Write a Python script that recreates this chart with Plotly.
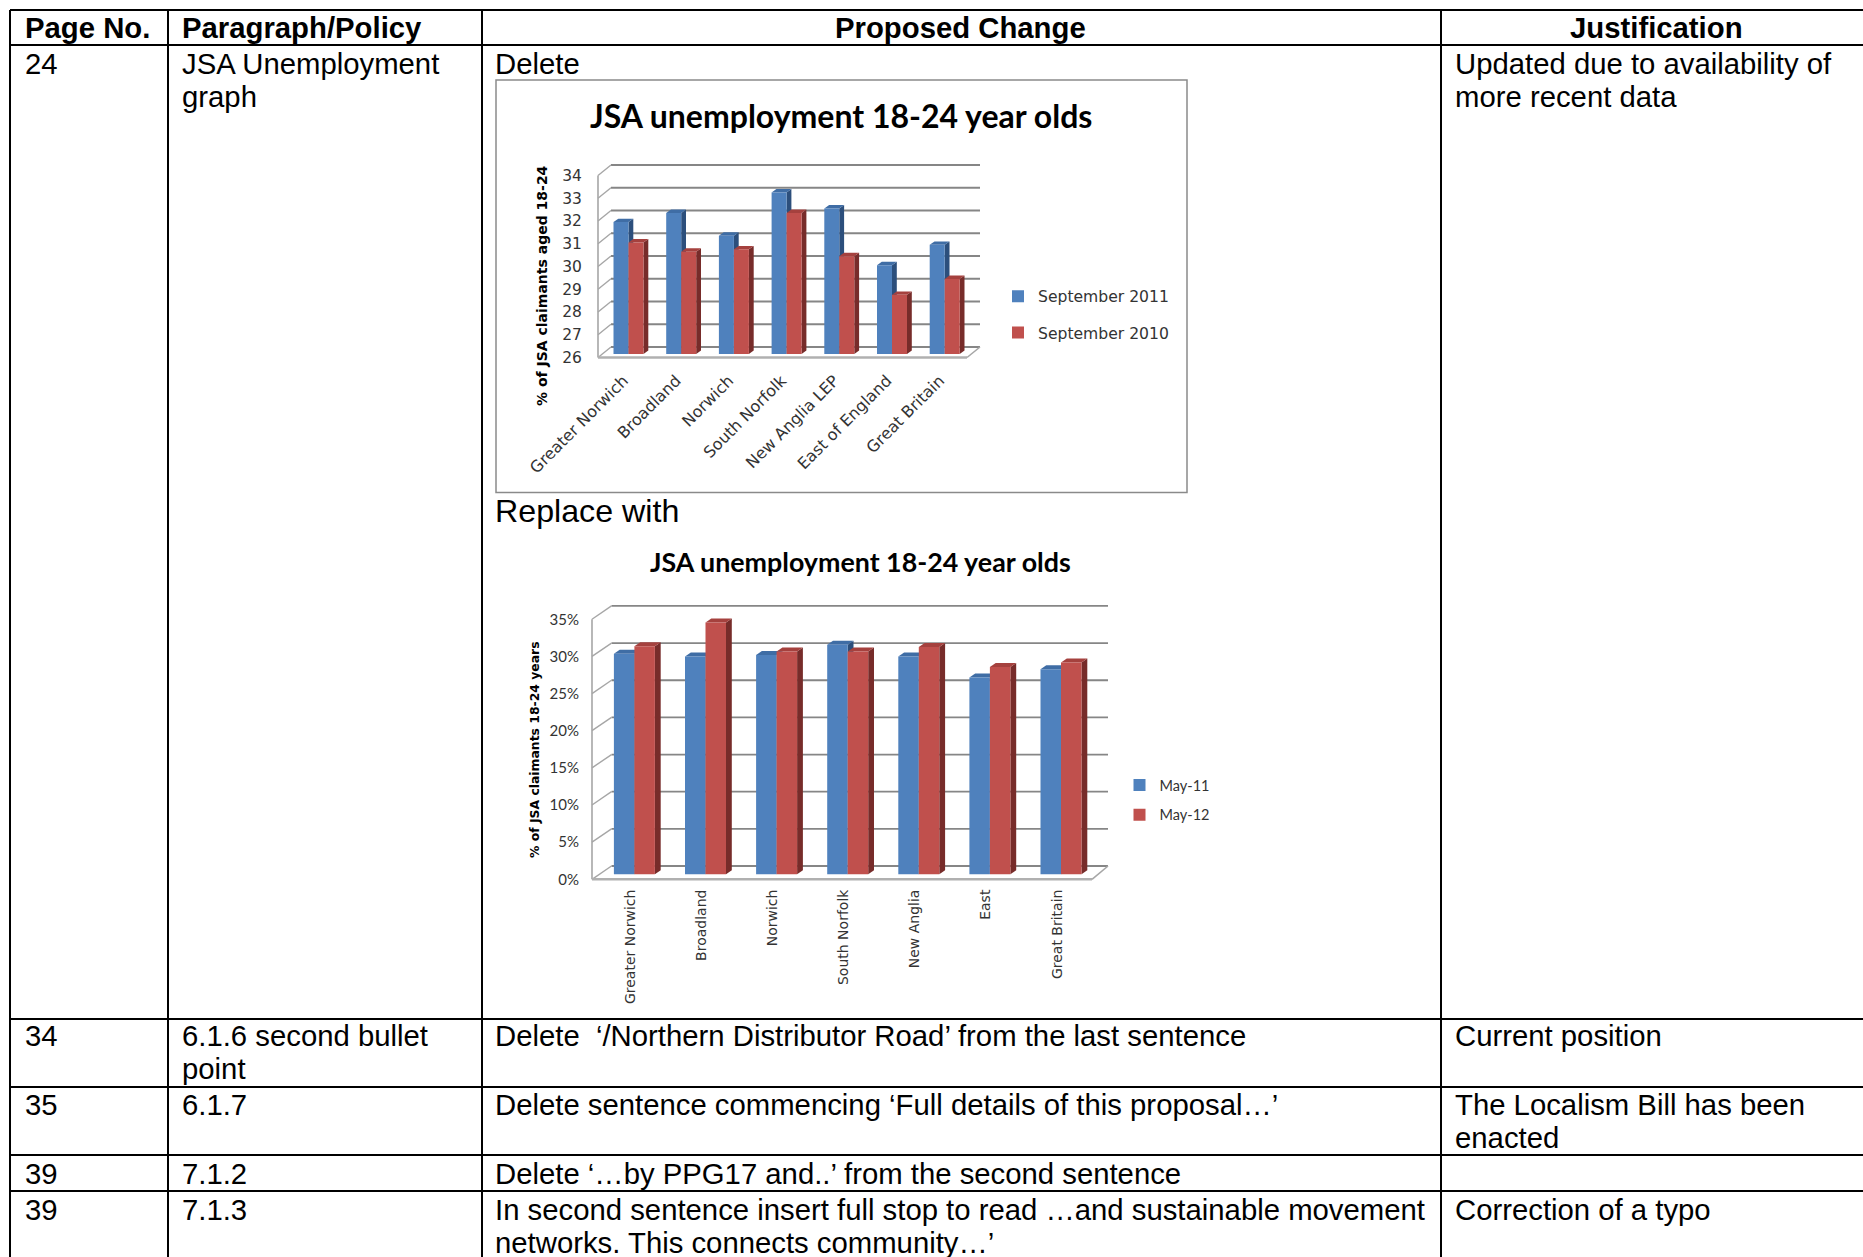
import plotly.graph_objects as go

W, H = 1863, 1257

# ---------- data ----------
cats_a = ["Greater Norwich", "Broadland", "Norwich", "South Norfolk", "New Anglia LEP", "East of England", "Great Britain"]
sep_2011 = [31.8, 32.2, 31.2, 33.1, 32.4, 29.9, 30.8]
sep_2010 = [30.9, 30.5, 30.6, 32.2, 30.3, 28.6, 29.3]
ticks_a = [26, 27, 28, 29, 30, 31, 32, 33, 34]
names_a = ["September 2011", "September 2010"]
title_a = "JSA unemployment 18-24 year olds"
ytitle_a = "% of JSA claimants aged 18-24"

cats_b = ["Greater Norwich", "Broadland", "Norwich", "South Norfolk", "New Anglia", "East", "Great Britain"]
may_11 = [29.7, 29.3, 29.5, 30.9, 29.3, 26.5, 27.6]
may_12 = [30.7, 33.9, 30.0, 30.0, 30.6, 27.9, 28.5]
ticks_b = [0, 5, 10, 15, 20, 25, 30, 35]
names_b = ["May-11", "May-12"]
title_b = "JSA unemployment 18-24 year olds"
ytitle_b = "% of JSA claimants 18-24 years"

headers = ["Page No.", "Paragraph/Policy", "Proposed Change", "Justification"]
rows = [
    ["24", ["JSA Unemployment", "graph"], ["Delete"], ["Updated due to availability of", "more recent data"]],
    ["34", ["6.1.6 second bullet", "point"], ["Delete  ‘/Northern Distributor Road’ from the last sentence"], ["Current position"]],
    ["35", ["6.1.7"], ["Delete sentence commencing ‘Full details of this proposal…’"], ["The Localism Bill has been", "enacted"]],
    ["39", ["7.1.2"], ["Delete ‘…by PPG17 and..’ from the second sentence"], []],
    ["39", ["7.1.3"], ["In second sentence insert full stop to read …and sustainable movement", "networks. This connects community…’"], ["Correction of a typo"]],
]
replace_label = "Replace with"

# ---------- layout constants (pixels) ----------
BLUE, RED = "#4F81BD", "#C0504D"
BLUE_SIDE, RED_SIDE = "#2C4F7C", "#772C2A"
BLUE_TOP, RED_TOP = "#3F6DA5", "#A5413E"
GRID = "#868686"
col_x = [10, 168, 482, 1441]
row_y = [10, 45, 1019, 1087, 1155, 1191]
row_text_y = [63, 1035, 1104, 1173, 1209]
LINE = 33.4
TEXT_PAD = 14
TABLE_FONT = "Liberation Sans"
TABLE_SIZE = 29.3


def fx(p):
    return p / W


def fy(p):
    return 1 - p / H


shapes, annos = [], []


def text(x, y, s, size=TABLE_SIZE, family=TABLE_FONT, color="#000000", anchor="left", bold=False, angle=0):
    annos.append(dict(
        xref="paper", yref="paper", x=fx(x), y=fy(y), text=f"<b>{s}</b>" if bold else s,
        showarrow=False, xanchor=anchor, yanchor="middle", textangle=angle,
        font=dict(size=size, family=family, color=color), borderpad=0, borderwidth=0,
    ))


# ---------- table ----------
def hline(y, x0=col_x[0], x1=W):
    shapes.append(dict(type="line", xref="paper", yref="paper", x0=fx(x0), x1=fx(x1), y0=fy(y), y1=fy(y),
                       line=dict(color="#000000", width=2), layer="above"))


def vline(x, y0=row_y[0], y1=H):
    shapes.append(dict(type="line", xref="paper", yref="paper", x0=fx(x), x1=fx(x), y0=fy(y0), y1=fy(y1),
                       line=dict(color="#000000", width=2), layer="above"))


for y in row_y:
    hline(y)
for x in col_x:
    vline(x)

header_pos = [(87.5, "center"), (182, "left"), (961, "center"), (1656, "center")]
for (x, a), s in zip(header_pos, headers):
    text(x, 27.8, s, size=29.3, anchor=a, bold=True)
for y, (page, para, change, just) in zip(row_text_y, rows):
    text(col_x[0] + 15, y, page)
    for i, s in enumerate(para):
        text(col_x[1] + TEXT_PAD, y + i * LINE, s)
    for i, s in enumerate(change):
        text(col_x[2] + TEXT_PAD - 1, y + i * LINE, s)
    for i, s in enumerate(just):
        text(col_x[3] + TEXT_PAD, y + i * LINE, s)
text(495, 511, replace_label, size=32.2)

# frame around first chart image
shapes.append(dict(type="rect", xref="paper", yref="paper", x0=fx(496), x1=fx(1187), y0=fy(80), y1=fy(492.5),
                   line=dict(color="#8A8A8A", width=1.5), layer="below"))


def poly(xref, yref, pts, fill):
    path = "M " + " L ".join(f"{x:.4f} {y:.4f}" for x, y in pts) + " Z"
    shapes.append(dict(type="path", xref=xref, yref=yref, path=path, fillcolor=fill,
                       line=dict(width=0), layer="below"))


def seg(xref, yref, x0, y0, x1, y1, color=GRID, width=1.8):
    shapes.append(dict(type="line", xref=xref, yref=yref, x0=x0, y0=y0, x1=x1, y1=y1,
                       line=dict(color=color, width=width), layer="below"))


fig = go.Figure()


def chart(suffix, cats, v1, v2, names, ticks, legend, cfg):
    """Draws one fake-3D bar chart on its own pair of axes."""
    xref, yref = "x" + suffix, "y" + suffix
    sx, sy = cfg["step"], cfg["unit"]              # pixels per category / per value unit
    lo = ticks[0]
    x_of = lambda px: (px - cfg["cx0"]) / sx       # pixel -> x data
    y_of = lambda py: lo + (cfg["base"] - py) / sy  # pixel -> y data
    w = cfg["bar"] / sx
    dx, dy = cfg["dx"] / sx, cfg["dy"] / sy

    L, R, T, B = cfg["dom"]
    hi_val = ticks[-1]
    span = hi_val - lo

    # walls: back-plane gridlines, side-wall diagonals, front axis, floor
    fl, fr, fb = cfg["front_l"], cfg["front_r"], cfg["front_b"]
    bl, br, bb = cfg["back_l"], cfg["back_r"], cfg["back_b"]
    for i, t in enumerate(ticks):
        yb = y_of(bb - (t - lo) * sy)
        yf = y_of(fb - (t - lo) * sy)
        seg(xref, yref, x_of(bl), yb, x_of(br), yb)
        seg(xref, yref, x_of(fl), yf, x_of(bl), yb, color="#A6A6A6", width=1.4)
    seg(xref, yref, x_of(fl), y_of(fb), x_of(fl), y_of(fb - span * sy), color="#A6A6A6", width=1.6)
    seg(xref, yref, x_of(fl), y_of(fb), x_of(fr), y_of(fb), color="#B0B0B0", width=2.4)
    seg(xref, yref, x_of(fr), y_of(fb), x_of(br), y_of(bb), color="#A6A6A6", width=1.6)

    # depth faces of every bar, derived from the values
    for series, sign, side, top in ((v1, -1, BLUE_SIDE, BLUE_TOP), (v2, 0, RED_SIDE, RED_TOP)):
        for i, v in enumerate(series):
            x0 = i + sign * w
            x1 = x0 + w
            poly(xref, yref, [(x1, lo), (x1 + dx, lo + dy), (x1 + dx, v + dy), (x1, v)], side)
            poly(xref, yref, [(x0, v), (x0 + dx, v + dy), (x1 + dx, v + dy), (x1, v)], top)

    idx = list(range(len(cats)))
    for name, series, off, color in ((names[0], v1, -w, BLUE), (names[1], v2, 0, RED)):
        fig.add_trace(go.Bar(
            x=idx, y=[v - lo for v in series], base=lo, width=w, offset=off, name=name,
            marker=dict(color=color, line=dict(width=0)), xaxis=xref, yaxis=yref,
            legend=legend, legendgroup=name, customdata=series,
            hovertemplate="%{x}: %{customdata}<extra>" + name + "</extra>",
        ))

    # axes
    fig.update_layout({
        ("xaxis" + suffix): dict(
            domain=[fx(L), fx(R)], range=[x_of(L), x_of(R)], anchor=yref, showgrid=False, zeroline=False,
            tickmode="array", tickvals=[i + cfg["label_shift"] / sx for i in idx], ticktext=cats,
            tickangle=cfg["angle"], ticks="outside", ticklen=cfg["x_pad"], tickcolor="rgba(0,0,0,0)",
            tickfont=dict(family=cfg["x_font"], size=cfg["x_size"], color="#333333"),
        ),
        ("yaxis" + suffix): dict(
            domain=[fy(B), fy(T)], range=[y_of(B), y_of(T)], anchor=xref, showgrid=False, zeroline=False,
            tickmode="array", tickvals=[t - (fb - cfg["base"]) / sy for t in ticks],
            ticktext=[cfg["fmt"].format(t) for t in ticks], ticks="outside", ticklen=cfg["y_pad"],
            tickcolor="rgba(0,0,0,0)",
            tickfont=dict(family=cfg["y_font"], size=cfg["y_size"], color="#333333"),
        ),
    })


chart("", cats_a, sep_2011, sep_2010, names_a, ticks_a, "legend", dict(
    step=52.7, unit=22.75, cx0=628.5, base=354, bar=15, dx=4.8, dy=3.4,
    dom=(597, 990, 155, 360),
    front_l=598, front_r=967, front_b=357.5, back_l=611, back_r=980, back_b=347,
    label_shift=-5, angle=-45, x_pad=4, x_font="DejaVu Sans", x_size=16,
    y_pad=11, y_font="DejaVu Sans", y_size=15.5, fmt="{}",
))
chart("2", cats_b, may_11, may_12, names_b, ticks_b, "legend2", dict(
    step=71.1, unit=7.43, cx0=634.4, base=874.3, bar=20.5, dx=5.8, dy=4,
    dom=(591, 1115, 598, 881),
    front_l=592, front_r=1092, front_b=879.3, back_l=611.5, back_r=1108, back_b=866,
    label_shift=-4, angle=-90, x_pad=2, x_font="DejaVu Sans", x_size=14,
    y_pad=8, y_font="Lato", y_size=15, fmt="{}%",
))

text(841, 115, title_a, size=32, family="Lato", bold=True, anchor="center")
text(860, 562, title_b, size=26.8, family="Lato", bold=True, anchor="center")
text(542, 286, ytitle_a, size=14, family="DejaVu Sans", bold=True, anchor="center", angle=-90)
text(535, 750, ytitle_b, size=12.4, family="DejaVu Sans", bold=True, anchor="center", angle=-90)

fig.update_layout(
    width=W, height=H, margin=dict(l=0, r=0, t=0, b=0, pad=0, autoexpand=False),
    paper_bgcolor="#FFFFFF", plot_bgcolor="rgba(0,0,0,0)",
    barmode="overlay", shapes=shapes, annotations=annos,
    legend=dict(x=fx(998), y=fy(279.5), xanchor="left", yanchor="top", tracegroupgap=13,
                bgcolor="rgba(0,0,0,0)", font=dict(family="DejaVu Sans", size=15.6, color="#333333")),
    legend2=dict(x=fx(1119.5), y=fy(769), xanchor="left", yanchor="top", tracegroupgap=8,
                 bgcolor="rgba(0,0,0,0)", font=dict(family="Lato", size=14.5, color="#333333")),
)

fig.write_html("out.html", config={"displayModeBar": False},
               post_script="document.body.style.margin='0';document.documentElement.style.overflow='hidden';")
